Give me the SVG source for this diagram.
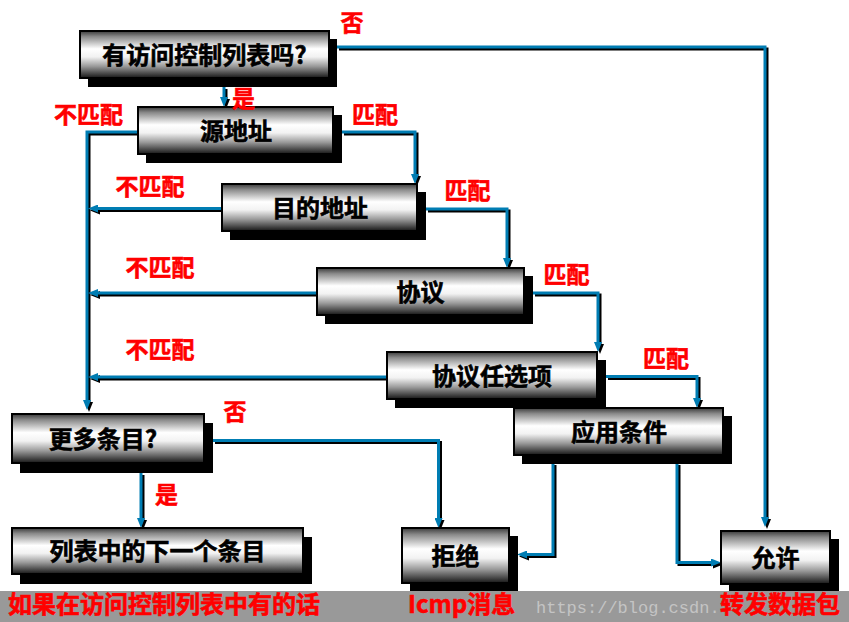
<svg xmlns="http://www.w3.org/2000/svg" width="849" height="622" viewBox="0 0 849 622">
<defs>
<linearGradient id="boxg" x1="0" y1="0" x2="0" y2="1">
<stop offset="0" stop-color="#3a3a3a"/>
<stop offset="0.12" stop-color="#8a8a8a"/>
<stop offset="0.38" stop-color="#ffffff"/>
<stop offset="0.55" stop-color="#f2f2f2"/>
<stop offset="0.75" stop-color="#9a9a9a"/>
<stop offset="1" stop-color="#161616"/>
</linearGradient>
<marker id="ab" viewBox="0 0 10 8" refX="2" refY="4" markerWidth="10" markerHeight="8" markerUnits="userSpaceOnUse" orient="auto">
<path d="M0,0 L10,4 L0,8 z" fill="#007db3"/>
</marker>
<marker id="ak" viewBox="0 0 10 8" refX="2" refY="4" markerWidth="10" markerHeight="8" markerUnits="userSpaceOnUse" orient="auto">
<path d="M0,0 L10,4 L0,8 z" fill="#000"/>
</marker>
<style>
.sh{fill:#000}
.bx{fill:url(#boxg);stroke:#000;stroke-width:2}
.t{font-family:"Noto Sans CJK SC","Liberation Sans",sans-serif;font-weight:bold;font-size:24px;fill:#000;stroke:#000;stroke-width:0.6;text-anchor:middle}
.lb{font-family:"Noto Sans CJK SC","Liberation Sans",sans-serif;font-weight:bold;font-size:23px;fill:#ff0000;stroke:#ff0000;stroke-width:0.6;text-anchor:middle}
.ft{font-family:"Noto Sans CJK SC","Liberation Sans",sans-serif;font-weight:bold;font-size:24px;fill:#ff0000;stroke:#ff0000;stroke-width:0.6}
.cb{fill:none;stroke:#007db3;stroke-width:3;marker-end:url(#ab)}
.ck{fill:none;stroke:#000;stroke-width:3;marker-end:url(#ak)}
</style>
</defs>
<rect width="849" height="622" fill="#fff"/>
<g id="connectors">
<g transform="translate(2,2)">
<path class="ck" d="M337,47 H765 V519"/>
<path class="ck" d="M224,87 V99"/>
<path class="ck" d="M342,132 H415 V176"/>
<path class="ck" d="M138,132 H87 V402"/>
<path class="ck" d="M222,208.5 H96"/>
<path class="ck" d="M426,209 H507 V260"/>
<path class="ck" d="M317,293 H96"/>
<path class="ck" d="M533,293 H598 V344"/>
<path class="ck" d="M387,377 H96"/>
<path class="ck" d="M606,376.5 H697 V400"/>
<path class="ck" d="M213,440.5 H438.5 V520"/>
<path class="ck" d="M141,473 V520"/>
<path class="ck" d="M553,463 V554.5 H525"/>
<path class="ck" d="M677,463 V562.5 H713"/>
</g>
<g>
<path class="cb" d="M337,47 H765 V519"/>
<path class="cb" d="M224,87 V99"/>
<path class="cb" d="M342,132 H415 V176"/>
<path class="cb" d="M138,132 H87 V402"/>
<path class="cb" d="M222,208.5 H96"/>
<path class="cb" d="M426,209 H507 V260"/>
<path class="cb" d="M317,293 H96"/>
<path class="cb" d="M533,293 H598 V344"/>
<path class="cb" d="M387,377 H96"/>
<path class="cb" d="M606,376.5 H697 V400"/>
<path class="cb" d="M213,440.5 H438.5 V520"/>
<path class="cb" d="M141,473 V520"/>
<path class="cb" d="M553,463 V554.5 H525"/>
<path class="cb" d="M677,463 V562.5 H713"/>
</g>
</g>
<g id="n-acl">
<rect class="sh" x="88" y="39" width="249" height="48"/>
<rect class="bx" x="80" y="31" width="249" height="47"/>
<text class="t" x="204.5" y="64">有访问控制列表吗?</text>
</g>
<g id="n-src">
<rect class="sh" x="146" y="115" width="196" height="48"/>
<rect class="bx" x="138" y="107" width="195" height="47"/>
<text class="t" x="236" y="140">源地址</text>
</g>
<g id="n-dst">
<rect class="sh" x="230" y="192" width="196" height="48"/>
<rect class="bx" x="222" y="184" width="195" height="47"/>
<text class="t" x="320" y="217">目的地址</text>
</g>
<g id="n-proto">
<rect class="sh" x="325" y="276" width="208" height="48"/>
<rect class="bx" x="317" y="268" width="207" height="47"/>
<text class="t" x="420.5" y="301">协议</text>
</g>
<g id="n-opt">
<rect class="sh" x="395" y="360" width="211" height="48"/>
<rect class="bx" x="387" y="352" width="210" height="47"/>
<text class="t" x="492" y="385">协议任选项</text>
</g>
<g id="n-cond">
<rect class="sh" x="522" y="416" width="210" height="48"/>
<rect class="bx" x="514" y="408" width="209" height="47"/>
<text class="t" x="619" y="441">应用条件</text>
</g>
<g id="n-more">
<rect class="sh" x="20" y="423" width="193" height="50"/>
<rect class="bx" x="12" y="414" width="192" height="49"/>
<text class="t" x="103" y="448">更多条目?</text>
</g>
<g id="n-next">
<rect class="sh" x="20" y="537" width="292" height="47"/>
<rect class="bx" x="12" y="528" width="291" height="46"/>
<text class="t" x="157.5" y="560">列表中的下一个条目</text>
</g>
<g id="n-deny">
<rect class="sh" x="410" y="536" width="108" height="56"/>
<rect class="bx" x="402" y="528" width="107" height="55"/>
<text class="t" x="455.5" y="565">拒绝</text>
</g>
<g id="n-permit">
<rect class="sh" x="729" y="539" width="110" height="54"/>
<rect class="bx" x="721" y="531" width="109" height="53"/>
<text class="t" x="775.5" y="567">允许</text>
</g>
<g id="labels">
<text class="lb" x="352" y="31">否</text>
<text class="lb" x="243.5" y="106.5">是</text>
<text class="lb" x="88.5" y="122.5">不匹配</text>
<text class="lb" x="375" y="122.5">匹配</text>
<text class="lb" x="150" y="194.5">不匹配</text>
<text class="lb" x="467.5" y="198.5">匹配</text>
<text class="lb" x="160" y="275.5">不匹配</text>
<text class="lb" x="566.5" y="282.5">匹配</text>
<text class="lb" x="160" y="357.5">不匹配</text>
<text class="lb" x="666" y="366.5">匹配</text>
<text class="lb" x="235" y="419.5">否</text>
<text class="lb" x="166.5" y="502.5">是</text>
</g>
<g id="footer">
<rect x="0" y="591" width="849" height="31" fill="#999999"/>
<text x="536" y="613" font-family="Liberation Mono, monospace" font-size="17" fill="#c4c4c4">https://blog.csdn.</text>
<text class="ft" x="8" y="613">如果在访问控制列表中有的话</text>
<text class="ft" x="408" y="613">Icmp消息</text>
<text class="ft" x="720" y="613">转发数据包</text>
</g>
</svg>
